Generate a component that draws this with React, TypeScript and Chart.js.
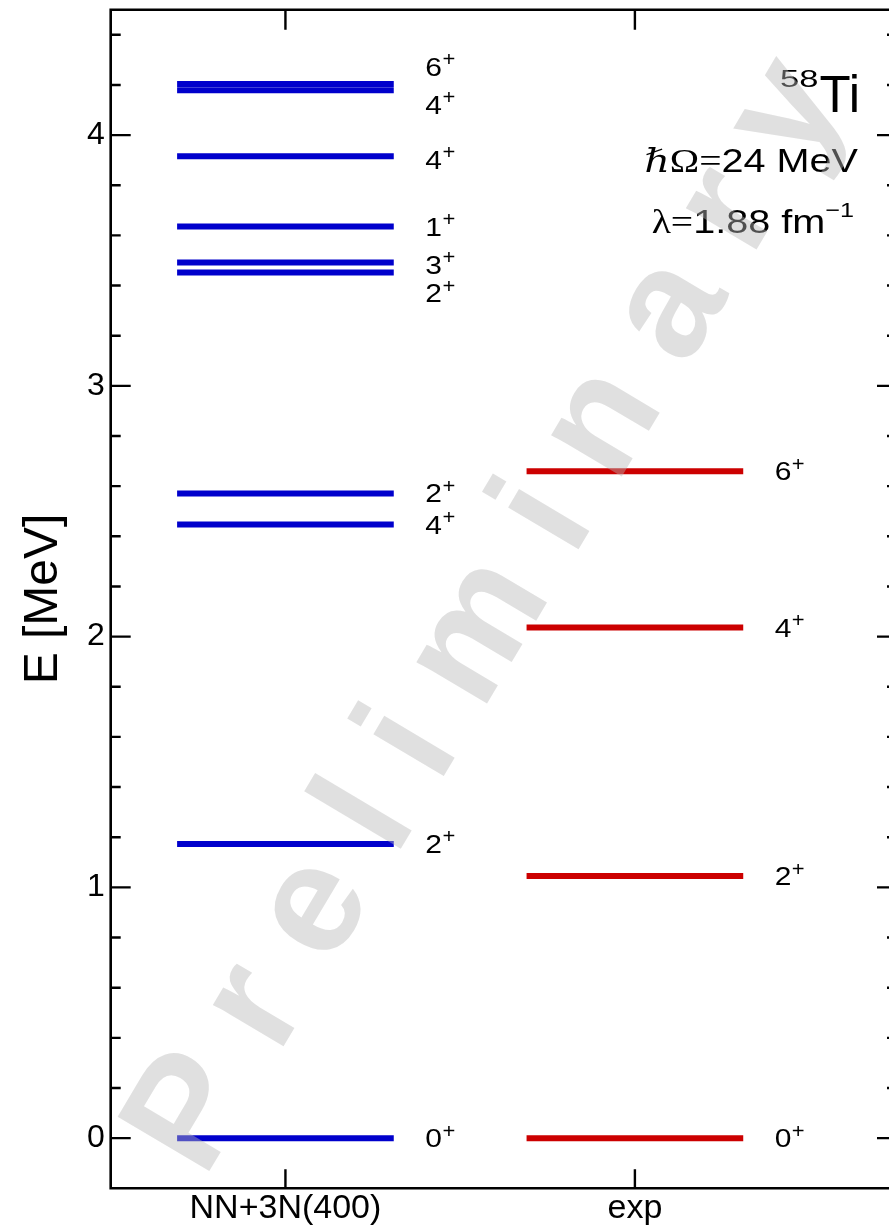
import React, { useEffect, useRef } from 'react';
import { Chart, registerables } from 'chart.js';

Chart.register(...registerables);

// ---------- data ----------
const categories = ['NN+3N(400)', 'exp'];
const theoryEnergies = [4.204, 4.179, 3.916, 3.635, 3.492, 3.452, 2.571, 2.447, 1.173, 0];
const theorySpins = ['6', '4', '4', '1', '3', '2', '2', '4', '2', '0'];
const theoryLabelEnergies = [4.273, 4.12, 3.901, 3.635, 3.482, 3.37, 2.571, 2.447, 1.173, 0];
const expEnergies = [2.659, 2.036, 1.045, 0];
const expSpins = ['6', '4', '2', '0'];
const expLabelEnergies = [2.659, 2.036, 1.045, 0];
const parity = '+';
const yTickValues = [0, 1, 2, 3, 4];
const nucleusMass = '58';
const nucleusSymbol = 'Ti';
const hbarOmegaText = '24 MeV';
const lambdaText = '1.88 fm';
const watermarkText = 'Preliminary';

// ---------- style ----------
const HALF = 0.31;
const LABEL_OFFSET = 0.4;
const SANS = '"Liberation Sans", Arial, Helvetica, sans-serif';
const SERIF = '"Liberation Serif", "DejaVu Serif", serif';
const BLUE = '#0000cc';
const RED = '#cc0000';

function levelPoints(center: number, energies: number[]) {
  const pts: { x: number; y: number | null }[] = [];
  energies.forEach((e) => {
    pts.push({ x: center - HALF, y: e });
    pts.push({ x: center + HALF, y: e });
    pts.push({ x: center, y: null });
  });
  return pts;
}

type Run = { text: string; font: string; dy?: number };

function measureRuns(ctx: CanvasRenderingContext2D, runs: Run[]) {
  let total = 0;
  for (const r of runs) {
    ctx.font = r.font;
    total += ctx.measureText(r.text).width;
  }
  return total;
}

function drawRuns(
  ctx: CanvasRenderingContext2D,
  runs: Run[],
  x: number,
  baseline: number,
  sx: number,
  align: 'left' | 'right'
) {
  ctx.save();
  ctx.translate(x, baseline);
  ctx.scale(sx, 1);
  ctx.textAlign = 'left';
  ctx.textBaseline = 'alphabetic';
  const total = measureRuns(ctx, runs);
  let cx = align === 'right' ? -total : 0;
  for (const r of runs) {
    ctx.font = r.font;
    ctx.fillText(r.text, cx, r.dy || 0);
    cx += ctx.measureText(r.text).width;
  }
  ctx.restore();
  return total * sx;
}

const framePlugin = {
  id: 'framePlugin',
  afterDraw(chart: any) {
    const ctx: CanvasRenderingContext2D = chart.ctx;
    const { left, right, top, bottom } = chart.chartArea;
    const xs = chart.scales.x;
    const ys = chart.scales.y;
    ctx.save();
    ctx.strokeStyle = '#000';
    ctx.lineWidth = 2.6;
    ctx.lineCap = 'butt';
    ctx.beginPath();
    ctx.moveTo(left, top);
    ctx.lineTo(right, top);
    ctx.lineTo(right, bottom);
    ctx.lineTo(left, bottom);
    ctx.closePath();
    ctx.stroke();
    ctx.lineWidth = 2.4;
    for (let i = -1; i <= 22; i++) {
      const v = i * 0.2;
      if (v <= ys.min + 1e-6 || v >= ys.max - 1e-6) continue;
      const isMajor = Math.abs(v - Math.round(v)) < 1e-6;
      const len = isMajor ? 20 : 10;
      const py = ys.getPixelForValue(v);
      ctx.beginPath();
      ctx.moveTo(left, py);
      ctx.lineTo(left + len, py);
      ctx.moveTo(right, py);
      ctx.lineTo(right - len, py);
      ctx.stroke();
    }
    categories.forEach((_, i) => {
      const px = xs.getPixelForValue(i + 1);
      ctx.beginPath();
      ctx.moveTo(px, bottom);
      ctx.lineTo(px, bottom - 19);
      ctx.moveTo(px, top);
      ctx.lineTo(px, top + 20);
      ctx.stroke();
    });
    ctx.restore();

    ctx.save();
    ctx.fillStyle = '#000';
    const drawLabels = (center: number, spins: string[], energies: number[]) => {
      spins.forEach((j, i) => {
        const px = xs.getPixelForValue(center + LABEL_OFFSET);
        const py = ys.getPixelForValue(energies[i]);
        const w = drawRuns(ctx, [{ text: j, font: `25px ${SANS}` }], px, py + 9, 1.2, 'left');
        drawRuns(ctx, [{ text: parity, font: `20px ${SANS}` }], px + w + 0.5, py - 0.5, 1.1, 'left');
      });
    };
    drawLabels(1, theorySpins, theoryLabelEnergies);
    drawLabels(2, expSpins, expLabelEnergies);

    const tiW = drawRuns(ctx, [{ text: nucleusSymbol, font: `51px ${SANS}` }], 860, 112, 1.0, 'right');
    drawRuns(ctx, [{ text: nucleusMass, font: `23px ${SANS}` }], 860 - tiW - 1, 87, 1.5, 'right');
    drawRuns(
      ctx,
      [
        { text: '\u210F', font: `italic 33px ${SERIF}` },
        { text: '\u03A9', font: `33px ${SERIF}` },
        { text: '=', font: `33px ${SERIF}` },
        { text: hbarOmegaText, font: `33px ${SANS}` },
      ],
      858,
      172,
      1.2,
      'right'
    );
    drawRuns(
      ctx,
      [
        { text: '\u03BB', font: `33px ${SERIF}` },
        { text: '=', font: `33px ${SERIF}` },
        { text: lambdaText, font: `33px ${SANS}` },
        { text: '\u22121', font: `21px ${SANS}`, dy: -16 },
      ],
      854,
      233,
      1.2,
      'right'
    );
    ctx.restore();

    ctx.save();
    ctx.fillStyle = 'rgba(184,184,184,0.435)';
    ctx.font = `bold 155px ${SANS}`;
    ctx.textAlign = 'left';
    ctx.textBaseline = 'alphabetic';
    ctx.translate(204, 1180);
    ctx.rotate((-59.3 * Math.PI) / 180);
    let wx = 0;
    for (const ch of watermarkText) {
      ctx.fillText(ch, wx, 0);
      wx += ctx.measureText(ch).width + 41.5;
    }
    ctx.restore();
  },
};

export default function App() {
  const ref = useRef<HTMLCanvasElement | null>(null);
  useEffect(() => {
    if (!ref.current) return;
    const chart = new Chart(ref.current, {
      type: 'line',
      data: {
        datasets: [
          {
            label: categories[0],
            data: levelPoints(1, theoryEnergies),
            borderColor: BLUE,
            backgroundColor: BLUE,
            borderWidth: 6,
            borderCapStyle: 'butt',
            pointRadius: 0,
            spanGaps: false,
            tension: 0,
          },
          {
            label: categories[1],
            data: levelPoints(2, expEnergies),
            borderColor: RED,
            backgroundColor: RED,
            borderWidth: 6,
            borderCapStyle: 'butt',
            pointRadius: 0,
            spanGaps: false,
            tension: 0,
          },
        ] as any,
      },
      options: {
        responsive: false,
        animation: false,
        devicePixelRatio: 1,
        layout: { padding: { top: 9.7, right: 3, left: 0, bottom: 0 } },
        plugins: { legend: { display: false }, tooltip: { enabled: false } },
        scales: {
          x: {
            type: 'linear',
            min: 0.5,
            max: 2.75,
            grid: { display: false, drawTicks: false },
            border: { display: false },
            afterBuildTicks: (s: any) => {
              s.ticks = categories.map((_, i) => ({ value: i + 1 }));
            },
            afterFit: (s: any) => {
              s.height = 42.7;
              s.paddingLeft = 0;
              s.paddingRight = 0;
              s.paddingTop = 0;
              s.paddingBottom = 0;
            },
            ticks: {
              autoSkip: false,
              maxRotation: 0,
              minRotation: 0,
              padding: 0,
              color: '#000',
              font: { family: SANS, size: 34 },
              callback: (v: any) => categories[Math.round(Number(v)) - 1] ?? '',
            },
          },
          y: {
            type: 'linear',
            min: -0.2,
            max: 4.5,
            grid: { display: false, drawTicks: false },
            border: { display: false },
            afterBuildTicks: (s: any) => {
              s.ticks = yTickValues.map((v) => ({ value: v }));
            },
            afterFit: (s: any) => {
              s.width = 110.7;
              s.paddingTop = 0;
              s.paddingBottom = 0;
              s.paddingLeft = 0;
              s.paddingRight = 0;
            },
            ticks: {
              padding: 6,
              color: '#000',
              font: { family: SANS, size: 32 },
              callback: (v: any) => String(v),
            },
            title: {
              display: true,
              text: 'E [MeV]',
              color: '#000',
              font: { family: SANS, size: 48 },
              padding: { top: 15.2, bottom: 0 },
            },
          },
        },
      } as any,
      plugins: [framePlugin],
    });
    return () => chart.destroy();
  }, []);

  return (
    <div
      style={{
        position: 'fixed',
        left: 0,
        top: 0,
        width: 889,
        height: 1231,
        overflow: 'hidden',
        background: '#fff',
      }}
    >
      <canvas ref={ref} width={900} height={1231} style={{ display: 'block', width: '900px', height: '1231px' }} />
    </div>
  );
}
